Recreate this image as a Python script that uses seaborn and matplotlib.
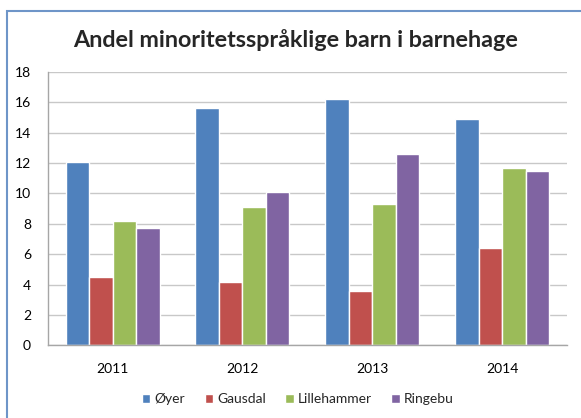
import pandas as pd
import matplotlib
matplotlib.use("Agg")
import matplotlib.pyplot as plt
import seaborn as sns
from matplotlib.patches import Rectangle

# ---------------------------
# Data
# ---------------------------
years = ["2011", "2012", "2013", "2014"]
kommuner = ["Øyer", "Gausdal", "Lillehammer", "Ringebu"]
oyer = [12.1, 15.6, 16.2, 14.9]
gausdal = [4.5, 4.2, 3.6, 6.4]
lillehammer = [8.2, 9.1, 9.3, 11.7]
ringebu = [7.7, 10.1, 12.6, 11.5]
colors = ["#4F81BD", "#C0504D", "#9BBB59", "#8064A2"]

df = pd.DataFrame({
    "Year": years * 4,
    "Kommune": [k for k in kommuner for _ in years],
    "Andel": oyer + gausdal + lillehammer + ringebu,
})

# ---------------------------
# Plot
# ---------------------------
sns.set_style("white")
plt.rcParams["font.family"] = ["Lato", "DejaVu Sans"]

fig = plt.figure(figsize=(5.81, 4.18), dpi=100)
ax = fig.add_axes([47.7 / 581, 1 - 345.3 / 418, (567 - 47.7) / 581, (345.3 - 72) / 418])

sns.barplot(data=df, x="Year", y="Andel", hue="Kommune", palette=colors,
            width=0.725, saturation=1, ax=ax, legend=True)

ax.set_ylim(0, 18)
ax.set_yticks(range(0, 19, 2))
ax.yaxis.grid(True, color="#C8C8C8", linewidth=1)
ax.set_axisbelow(True)
ax.set_xlabel("")
ax.set_ylabel("")
for side in ["top", "right"]:
    ax.spines[side].set_visible(False)
for side in ["left", "bottom"]:
    ax.spines[side].set_color("#A6A6A6")
    ax.spines[side].set_linewidth(1)
ax.tick_params(axis="y", length=0, pad=12, labelsize=10, colors="#000000")
ax.tick_params(axis="x", length=0, pad=13, labelsize=10, colors="#000000")

handles, labels = ax.get_legend_handles_labels()
ax.legend(handles, labels, loc="center", bbox_to_anchor=(298 / 581, 1 - 399 / 418),
          bbox_transform=fig.transFigure, ncol=4, frameon=False, fontsize=10,
          handlelength=0.6, handleheight=0.6, handletextpad=0.3, columnspacing=1.4)

fig.text(296 / 581, 1 - 40 / 418, "Andel minoritetsspråklige barn i barnehage",
         ha="center", va="center", fontsize=16.8, fontweight="bold")

# chart frame
fig.patches.append(Rectangle((7.3 / 581, -0.1), 1.2, 1.1 - 10.7 / 418,
                             transform=fig.transFigure, fill=False,
                             edgecolor="#6E95C8", linewidth=1.5))

fig.savefig("out.png", dpi=100)
